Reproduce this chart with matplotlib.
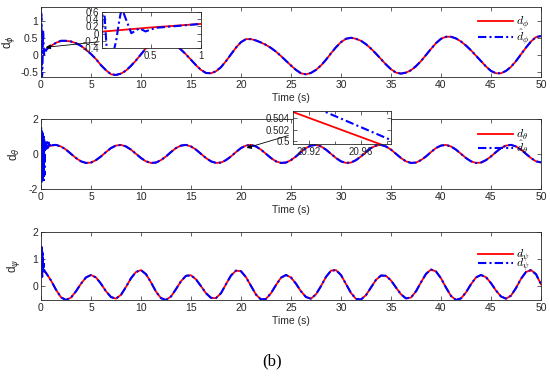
import numpy as np
import matplotlib
matplotlib.use("Agg")
import matplotlib.pyplot as plt
from matplotlib.font_manager import FontProperties

plt.rcParams['font.family'] = ['Liberation Sans', 'DejaVu Sans']
plt.rcParams['axes.unicode_minus'] = False

# time grid (s), every 0.5 s
t = np.linspace(0, 50, 101)

d_phi = [0.05, 0.17, 0.27, 0.36, 0.42, 0.42, 0.40, 0.35, 0.27, 0.16,
         0.03, -0.12, -0.30, -0.45, -0.57, -0.59, -0.55, -0.46, -0.32, -0.16,
         0.02, 0.20, 0.36, 0.47, 0.49, 0.46, 0.39, 0.29, 0.16, 0.02,
         -0.14, -0.30, -0.44, -0.53, -0.54, -0.48, -0.36, -0.18, 0.02, 0.22,
         0.38, 0.47, 0.47, 0.43, 0.37, 0.30, 0.21, 0.10, -0.03, -0.17,
         -0.31, -0.44, -0.54, -0.57, -0.53, -0.44, -0.31, -0.14, 0.05, 0.23,
         0.38, 0.48, 0.51, 0.48, 0.42, 0.32, 0.19, 0.04, -0.12, -0.28,
         -0.42, -0.52, -0.55, -0.52, -0.45, -0.33, -0.18, 0.00, 0.18, 0.35,
         0.48, 0.54, 0.54, 0.49, 0.40, 0.28, 0.14, -0.02, -0.18, -0.34,
         -0.47, -0.54, -0.54, -0.47, -0.35, -0.18, 0.02, 0.22, 0.40, 0.53,
         0.56]
d_theta = [0.11, 0.34, 0.48, 0.52, 0.43, 0.25, 0.01, -0.23, -0.42, -0.51,
           -0.49, -0.35, -0.14, 0.11, 0.34, 0.48, 0.52, 0.43, 0.25, 0.01,
           -0.23, -0.42, -0.51, -0.49, -0.35, -0.14, 0.11, 0.34, 0.48, 0.52,
           0.43, 0.25, 0.01, -0.23, -0.42, -0.51, -0.49, -0.35, -0.14, 0.11,
           0.34, 0.48, 0.52, 0.43, 0.25, 0.01, -0.23, -0.42, -0.51, -0.49,
           -0.35, -0.14, 0.11, 0.34, 0.48, 0.52, 0.43, 0.25, 0.01, -0.23,
           -0.42, -0.51, -0.49, -0.35, -0.14, 0.11, 0.34, 0.48, 0.52, 0.43,
           0.25, 0.01, -0.23, -0.42, -0.51, -0.49, -0.35, -0.14, 0.11, 0.34,
           0.48, 0.52, 0.43, 0.25, 0.01, -0.23, -0.42, -0.51, -0.49, -0.35,
           -0.14, 0.11, 0.34, 0.48, 0.52, 0.43, 0.25, 0.01, -0.23, -0.42,
           -0.48]
d_psi = [0.60, 0.50, 0.22, -0.12, -0.40, -0.50, -0.41, -0.18, 0.10, 0.33,
         0.42, 0.33, 0.10, -0.18, -0.39, -0.45, -0.31, -0.02, 0.30, 0.53,
         0.60, 0.45, 0.15, -0.19, -0.43, -0.50, -0.37, -0.10, 0.19, 0.39,
         0.41, 0.26, 0.01, -0.25, -0.42, -0.43, -0.25, 0.08, 0.40, 0.58,
         0.56, 0.34, 0.02, -0.30, -0.48, -0.46, -0.25, 0.05, 0.32, 0.42,
         0.33, 0.10, -0.18, -0.39, -0.45, -0.29, 0.01, 0.35, 0.58, 0.60,
         0.42, 0.09, -0.24, -0.46, -0.48, -0.32, -0.04, 0.24, 0.40, 0.39,
         0.22, -0.04, -0.29, -0.44, -0.41, -0.18, 0.15, 0.46, 0.62, 0.55,
         0.30, -0.04, -0.35, -0.50, -0.44, -0.22, 0.08, 0.33, 0.42, 0.34,
         0.12, -0.15, -0.37, -0.45, -0.34, -0.06, 0.28, 0.53, 0.60, 0.45,
         0.08]

# estimates: start-up transient, afterwards they sit on the real curve
phi_hat_t0 = [0, 0.008, 0.016, 0.03, 0.07, 0.1, 0.13, 0.16, 0.19, 0.215,
              0.25, 0.31, 0.39, 0.45, 0.5, 0.55]
phi_hat_v0 = [0.05, 1.4, -0.6, 1.2, -0.6, -0.65, -0.55, -0.2, 0.35, 0.72,
              0.45, 0.01, 0.15, 0.06, 0.11, 0.16]
theta_hat_t0 = [0, 0.02, 0.05, 0.08, 0.11, 0.14, 0.17, 0.2, 0.23, 0.26, 0.29,
                0.32, 0.35, 0.38, 0.42, 0.48, 0.55, 0.62, 0.7, 0.78, 0.86,
                0.95, 1.05]
theta_hat_v0 = [0.1, 1.5, -1.6, 1.4, -1.5, 1.3, -1.6, 1.2, -1.4, 1.0, -1.5,
                0.8, -1.2, 0.6, 0.2, 0.65, 0.3, 0.68, 0.35, 0.65, 0.45,
                0.62, 0.5]
psi_hat_t0 = [0, 0.02, 0.04, 0.06, 0.08, 0.1, 0.12, 0.14, 0.16, 0.18, 0.2,
              0.22, 0.25, 0.28, 0.32, 0.4]
psi_hat_v0 = [0.35, 1.5, 0.4, 1.45, 0.5, 1.4, 0.35, 1.3, 0.6, 1.2, 0.5,
              1.0, 0.7, 0.9, 0.6, 0.55]

# zoomed piece of the theta curve (second inset)
zoom_t = [20.90, 20.99]
zoom_theta = [0.5057, 0.4982]
zoom_hat_t = [20.925, 20.99]
zoom_theta_hat = [0.5058, 0.4995]


def hat_series(t0, v0, ref, t_from):
    keep = t >= t_from
    return (np.concatenate([t0, t[keep]]),
            np.concatenate([v0, np.asarray(ref)[keep]]))


gray = '#262626'
red = (1, 0, 0)
blue = (0, 0, 1)
dd = (4, 1.5, 1, 1.5)


def style(ax, fs=7.5):
    for s in ax.spines.values():
        s.set_linewidth(0.6)
        s.set_color(gray)
    ax.tick_params(direction='in', top=True, right=True, length=3,
                   width=0.5, color=gray, labelcolor=gray, labelsize=fs,
                   pad=2)


fig = plt.figure(figsize=(5.5, 3.78), dpi=100)
ax1 = fig.add_axes([0.0745, 0.7963, 0.9091, 0.1852])
ax2 = fig.add_axes([0.0745, 0.5, 0.9091, 0.1852])
ax3 = fig.add_axes([0.0745, 0.2063, 0.9091, 0.1799])

panels = [
    (ax1, d_phi, phi_hat_t0, phi_hat_v0, 1.0, r'\phi', (-0.65, 1.42),
     [-0.5, 0, 0.5, 1], ['-0.5', '0', '0.5', '1'], 0.89, -0.35, -0.047),
    (ax2, d_theta, theta_hat_t0, theta_hat_v0, 1.5, r'\theta', (-2, 2),
     [-2, 0, 2], ['-2', '0', '2'], 0.87, -0.27, -0.038),
    (ax3, d_psi, psi_hat_t0, psi_hat_v0, 0.5, r'\psi', (-0.5, 2),
     [0, 1, 2], ['0', '1', '2'], 0.77, -0.9, -0.038),
]

legfont = FontProperties(size=8.5, math_fontfamily='cm')
labfont = FontProperties(family='Liberation Sans', size=8.5)

for (ax, d, ht, hv, tf, sym, ylim, yt, ytl, ly, lsp, ylx) in panels:
    th, vh = hat_series(ht, hv, d, tf)
    ax.plot(t, d, color=red, lw=1.3, label=r'$d_{%s}$' % sym)
    ax.plot(th, vh, color=blue, lw=1.5, ls=(0, dd),
            label=r'$\hat{d}_{%s}$' % sym)
    ax.set_xlim(0, 50)
    ax.set_ylim(*ylim)
    ax.set_xticks(np.arange(0, 51, 5))
    ax.set_yticks(yt)
    ax.set_yticklabels(ytl)
    style(ax)
    ax.set_xlabel('Time (s)', fontsize=7.5, color=gray, labelpad=2)
    ax.set_ylabel(r'd$_{%s}$' % sym, fontproperties=labfont, color=gray)
    ax.yaxis.set_label_coords(ylx, 0.5)
    ax.legend(loc='upper left', bbox_to_anchor=(0.874, ly), frameon=False,
              prop=legfont, handlelength=3.0, handletextpad=0.25,
              borderpad=0, borderaxespad=0, labelspacing=lsp)

# arrows pointing from the insets to the zoomed spots
ax1.annotate('', xy=(0.2, 0.22), xytext=(6.1, 0.40),
             arrowprops=dict(arrowstyle='-|>', color='k', lw=0.6,
                             mutation_scale=7))
ax2.annotate('', xy=(20.3, 0.3), xytext=(25.0, 1.1),
             arrowprops=dict(arrowstyle='-|>', color='k', lw=0.6,
                             mutation_scale=7))

# inset 1: start of d_phi
in1 = fig.add_axes([0.1855, 0.873, 0.18, 0.0952])
th, vh = hat_series(phi_hat_t0, phi_hat_v0, d_phi, 1.0)
in1.plot(t, d_phi, color=red, lw=1.3)
in1.plot(th, vh, color=blue, lw=1.5, ls=(0, dd))
in1.set_xlim(0.02, 1.0)
in1.set_ylim(-0.4, 0.6)
in1.set_xticks([0.5, 1])
in1.set_xticklabels(['0.5', '1'])
in1.set_yticks([-0.4, -0.2, 0, 0.2, 0.4, 0.6])
in1.set_yticklabels(['-0.4', '-0.2', '0', '0.2', '0.4', '0.6'])
style(in1, fs=7)

# inset 2: close-up of d_theta near 20.95 s
in2 = fig.add_axes([0.5327, 0.619, 0.1782, 0.0873])
in2.plot(zoom_t, zoom_theta, color=red, lw=1.3)
in2.plot(zoom_hat_t, zoom_theta_hat, color=blue, lw=1.5, ls=(0, dd))
in2.set_xlim(20.908, 20.983)
in2.set_ylim(0.4995, 0.5052)
in2.set_xticks([20.92, 20.96])
in2.set_xticklabels(['20.92', '20.96'])
in2.set_xticks([20.94, 20.98], minor=True)
in2.set_yticks([0.5, 0.502, 0.504])
in2.set_yticklabels(['0.5', '0.502', '0.504'])
style(in2, fs=7)
in2.tick_params(which='minor', direction='in', top=True, length=2,
                width=0.5, color=gray)

fig.text(0.495, 0.045, '(b)', ha='center', va='center', fontsize=12,
         family='Liberation Serif')

fig.savefig('out.png', dpi=100)
